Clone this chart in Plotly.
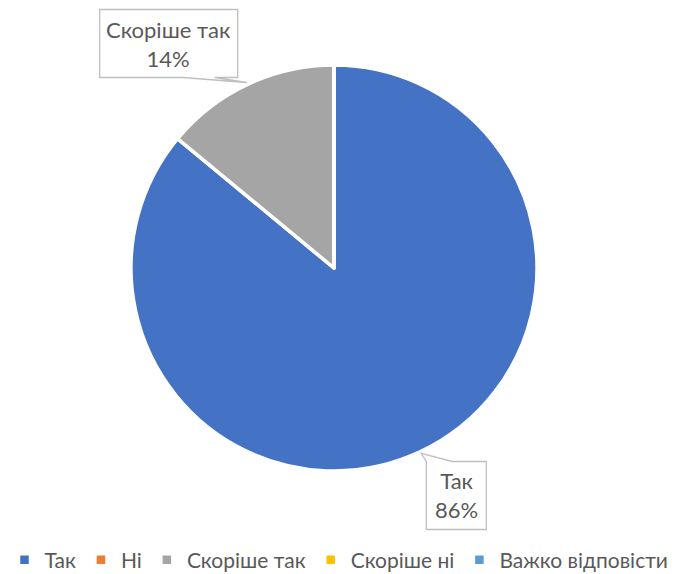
import math
import plotly.graph_objects as go

labels = ["Так", "Ні", "Скоріше так", "Скоріше ні", "Важко відповісти"]
values = [86, 0, 14, 0, 0]
colors = ["#4472C4", "#ED7D31", "#A5A5A5", "#FFC000", "#5B9BD5"]

W, H = 678, 574
CX, CY, R = 334, 268, 203
FONT = "Lato"
TXT = "#595959"

fig = go.Figure()
fig.add_trace(go.Pie(
    labels=labels, values=values, sort=False, direction="clockwise", rotation=0,
    marker=dict(colors=colors, line=dict(color="white", width=3.5)),
    textinfo="none", hoverinfo="label+percent",
    domain=dict(x=[(CX - R) / W, (CX + R) / W], y=[1 - (CY + R) / H, 1 - (CY - R) / H]),
    showlegend=True,
))

def px(x, y):
    return x / W, 1 - y / H

# callout bubbles: box offsets relative to slice tip (pixels), pointer base
bubbles = {
    "Так": dict(box=(5, 8, 65, 76), side="topleft", base=26),
    "Скоріше так": dict(box=(-147, -73, -9, -5), side="bottom", base=(-64, -32)),
}

total = sum(values)
cum = 0
shapes, annos = [], []
for lab, v in zip(labels, values):
    if v > 0 and lab in bubbles:
        th = 2 * math.pi * (cum + v / 2) / total
        tx = CX + (R + 2) * math.sin(th)
        ty = CY - (R + 2) * math.cos(th)
        b = bubbles[lab]
        x0, y0, x1, y1 = tx + b["box"][0], ty + b["box"][1], tx + b["box"][2], ty + b["box"][3]
        if b["side"] == "topleft":
            pts = [(tx, ty), (x0 + b["base"], y0), (x1, y0), (x1, y1), (x0, y1), (x0, y0)]
        else:
            bl, br = tx + b["base"][0], tx + b["base"][1]
            pts = [(x0, y0), (x1, y0), (x1, y1), (br, y1), (tx, ty), (bl, y1), (x0, y1)]
        path = "M " + " L ".join(f"{px(a, c)[0]:.5f},{px(a, c)[1]:.5f}" for a, c in pts) + " Z"
        shapes.append(dict(type="path", path=path, xref="paper", yref="paper",
                           fillcolor="white", line=dict(color="#BFBFBF", width=1.3), layer="above"))
        ax, ay = px((x0 + x1) / 2, (y0 + y1) / 2)
        annos.append(dict(x=ax, y=ay, xref="paper", yref="paper", showarrow=False,
                          text=f"{lab}<br>{round(v / total * 100)}%",
                          font=dict(family=FONT, size=22, color=TXT),
                          xanchor="center", yanchor="middle", align="center"))
    cum += v

fig.update_layout(
    width=W, height=H, margin=dict(l=0, r=0, t=0, b=0, autoexpand=False),
    paper_bgcolor="white", plot_bgcolor="white",
    shapes=shapes, annotations=annos,
    legend=dict(orientation="h", x=0.5, xanchor="center", y=1 - 560 / H, yanchor="middle",
                font=dict(family=FONT, size=21, color=TXT), itemclick=False,
                traceorder="normal"),
    font=dict(family=FONT),
)
fig.write_html("out.html", config={"displayModeBar": False},
               post_script="document.body.style.margin='0';")
